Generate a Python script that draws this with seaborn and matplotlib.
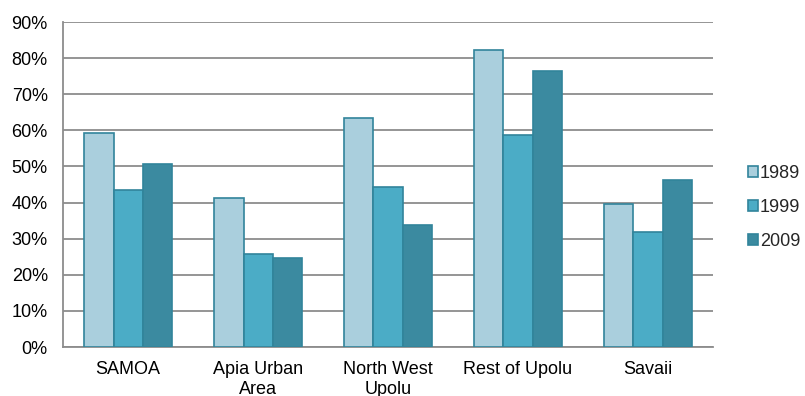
import matplotlib
matplotlib.use("Agg")
import matplotlib.pyplot as plt
import seaborn as sns
import pandas as pd
from matplotlib.ticker import PercentFormatter

regions = ["SAMOA", "Apia Urban\nArea", "North West\nUpolu", "Rest of Upolu", "Savaii"]
years = ["1989", "1999", "2009"]
share_1989 = [59.2, 41.2, 63.5, 82.2, 39.5]
share_1999 = [43.4, 25.7, 44.4, 58.8, 31.9]
share_2009 = [50.6, 24.6, 33.8, 76.5, 46.2]
palette = ["#AACFDD", "#4BACC6", "#3B8AA0"]

df = pd.DataFrame({
    "region": regions * 3,
    "year": [y for y in years for _ in regions],
    "value": share_1989 + share_1999 + share_2009,
})

sns.set_theme(style="white")
plt.rcParams["font.family"] = ["Liberation Sans", "DejaVu Sans"]

fig = plt.figure(figsize=(8.05, 3.96), dpi=100)
ax = fig.add_axes([0.0783, 0.1237, 0.8074, 0.8207])

sns.barplot(data=df, x="region", y="value", hue="year", palette=palette,
            width=0.67, edgecolor="#31849B", linewidth=1.2, saturation=1,
            ax=ax, zorder=3)

ax.set_ylim(0, 90)
ax.set_yticks(range(0, 91, 10))
ax.yaxis.set_major_formatter(PercentFormatter(decimals=0))
ax.grid(axis="y", color="#8C8C8C", linewidth=1.3, zorder=0)
ax.set_axisbelow(True)
for s in ["top", "right"]:
    ax.spines[s].set_visible(False)
for s in ["left", "bottom"]:
    ax.spines[s].set_color("#8C8C8C")
    ax.spines[s].set_linewidth(1.3)
ax.set_xlabel("")
ax.set_ylabel("")
ax.tick_params(axis="both", labelsize=13, colors="#000000", length=0)
ax.tick_params(axis="y", pad=11)
ax.tick_params(axis="x", pad=10)
for lbl in ax.get_xticklabels():
    lbl.set_linespacing(1.25)

leg = ax.legend(loc="center left", bbox_to_anchor=(1.043, 0.43), frameon=False,
                fontsize=13, handlelength=0.55, handleheight=0.55,
                handletextpad=0.1, labelspacing=0.95, borderaxespad=0)

fig.savefig("out.png", dpi=100)
